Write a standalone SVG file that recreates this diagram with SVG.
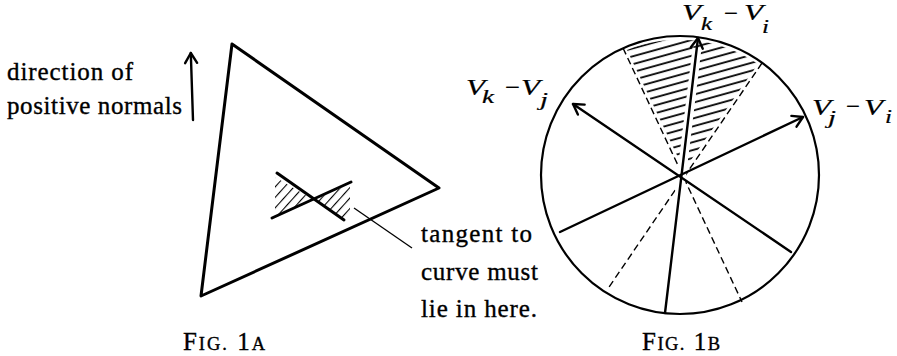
<svg xmlns="http://www.w3.org/2000/svg" width="897" height="356" viewBox="0 0 897 356">
<style>
.t{font-family:"Liberation Serif","Times New Roman",serif;font-size:25px;fill:#000;stroke:#000;stroke-width:0.35}
.v{font-family:"Liberation Serif","Times New Roman",serif;font-style:italic;font-size:23px;fill:#000;stroke:#000;stroke-width:0.2}
.s{font-family:"Liberation Serif","Times New Roman",serif;font-style:italic;font-size:18px;fill:#000;stroke:#000;stroke-width:0.2}
.mi{font-family:"Liberation Serif","Times New Roman",serif;font-size:23px;fill:#000;stroke:#000;stroke-width:0.2}
.sc{font-size:18.5px}
.thick{stroke:#000;stroke-width:3;fill:none;stroke-linecap:round;stroke-linejoin:round}
.ln{stroke:#000;stroke-width:2.4;fill:none;stroke-linecap:round}
.dash{stroke:#000;stroke-width:1.4;fill:none;stroke-dasharray:7 4}
.thin{stroke:#000;stroke-width:1.3;fill:none}
</style>
<defs>
<marker id="ah" markerUnits="userSpaceOnUse" markerWidth="20" markerHeight="20" refX="0" refY="0" orient="auto" overflow="visible">
<path d="M-10,-6 L0,0 L-10,6" fill="none" stroke="#000" stroke-width="2.4" stroke-linecap="round" stroke-linejoin="round"/>
</marker>
<pattern id="hA" width="7" height="7" patternUnits="userSpaceOnUse" patternTransform="rotate(42)">
<line x1="0" y1="0" x2="0" y2="7" stroke="#000" stroke-width="2.2"/>
</pattern>
<pattern id="hB" width="8" height="7.6" patternUnits="userSpaceOnUse" patternTransform="rotate(-15.5)">
<line x1="0" y1="3" x2="8" y2="3" stroke="#000" stroke-width="1.8"/>
</pattern>
</defs>

<!-- Figure 1A -->
<g id="fig1a">
<g id="triangle">
<path class="thick" d="M232,44 L439,188 L201,296 Z"/>
</g>
<g id="normal-arrow">
<line class="ln" x1="193" y1="120" x2="190.8" y2="53" marker-end="url(#ah)"/>
<text class="t" x="7" y="80" textLength="126" lengthAdjust="spacing">direction of</text>
<text class="t" x="7" y="114" textLength="175" lengthAdjust="spacing">positive normals</text>
</g>
<g id="bowtie">
<path d="M275,177 L312,199 L275,216 Z" fill="url(#hA)"/>
<path d="M316,199 L350,184 L350,218 L340,218 Z" fill="url(#hA)"/>
<line class="thick" x1="277" y1="173" x2="344" y2="220"/>
<line class="thick" x1="272" y1="218" x2="351" y2="182"/>
</g>
<g id="tangent-label">
<line class="thin" x1="354" y1="208" x2="412" y2="248"/>
<text class="t" x="421" y="242" textLength="111" lengthAdjust="spacing">tangent to</text>
<text class="t" x="421" y="280" textLength="117" lengthAdjust="spacing">curve must</text>
<text class="t" x="421" y="317" textLength="116" lengthAdjust="spacing">lie in here.</text>
</g>
<text class="t" x="183" y="350" textLength="82" lengthAdjust="spacing">F<tspan class="sc">IG.</tspan> 1<tspan class="sc">A</tspan></text>
</g>

<!-- Figure 1B -->
<g id="fig1b">
<g id="circle">
<circle cx="680" cy="175" r="139" fill="none" stroke="#000" stroke-width="2.2"/>
</g>
<g id="wedge">
<path d="M684,170 L627,50 A139,139 0 0 1 758,64 Z" fill="url(#hB)"/>
</g>
<g id="connectors">
<line class="dash" x1="623" y1="48" x2="742" y2="302"/>
<line class="dash" x1="762" y1="63" x2="607" y2="290"/>
<line x1="669" y1="280" x2="697" y2="48" stroke="#fff" stroke-width="9"/>
<line class="ln" x1="665" y1="313" x2="698" y2="38" marker-end="url(#ah)"/>
<line class="ln" x1="560" y1="232" x2="803" y2="117" marker-end="url(#ah)"/>
<line class="ln" x1="791" y1="252" x2="573" y2="104" marker-end="url(#ah)"/>
</g>
<g id="label-vkvi">
<text class="v" x="682" y="20" textLength="19" lengthAdjust="spacingAndGlyphs">V</text>
<text class="s" x="701" y="30" textLength="11" lengthAdjust="spacingAndGlyphs">k</text>
<text class="mi" x="724" y="21" textLength="14" lengthAdjust="spacingAndGlyphs">−</text>
<text class="v" x="744" y="20" textLength="19" lengthAdjust="spacingAndGlyphs">V</text>
<text class="s" x="762" y="33" textLength="7" lengthAdjust="spacingAndGlyphs">i</text>
</g>
<g id="label-vkvj">
<text class="v" x="466" y="95" textLength="19" lengthAdjust="spacingAndGlyphs">V</text>
<text class="s" x="482" y="103" textLength="12" lengthAdjust="spacingAndGlyphs">k</text>
<text class="mi" x="505" y="95" textLength="15" lengthAdjust="spacingAndGlyphs">−</text>
<text class="v" x="521" y="95" textLength="19" lengthAdjust="spacingAndGlyphs">V</text>
<text class="s" x="540" y="106" textLength="8" lengthAdjust="spacingAndGlyphs">j</text>
</g>
<g id="label-vjvi">
<text class="v" x="812" y="115" textLength="19" lengthAdjust="spacingAndGlyphs">V</text>
<text class="s" x="828" y="124" textLength="8" lengthAdjust="spacingAndGlyphs">j</text>
<text class="mi" x="846" y="114" textLength="14" lengthAdjust="spacingAndGlyphs">−</text>
<text class="v" x="864" y="115" textLength="19" lengthAdjust="spacingAndGlyphs">V</text>
<text class="s" x="885" y="123" textLength="7" lengthAdjust="spacingAndGlyphs">i</text>
</g>
<text class="t" x="642" y="350" textLength="78" lengthAdjust="spacing">F<tspan class="sc">IG.</tspan> 1<tspan class="sc">B</tspan></text>
</g>
</svg>
